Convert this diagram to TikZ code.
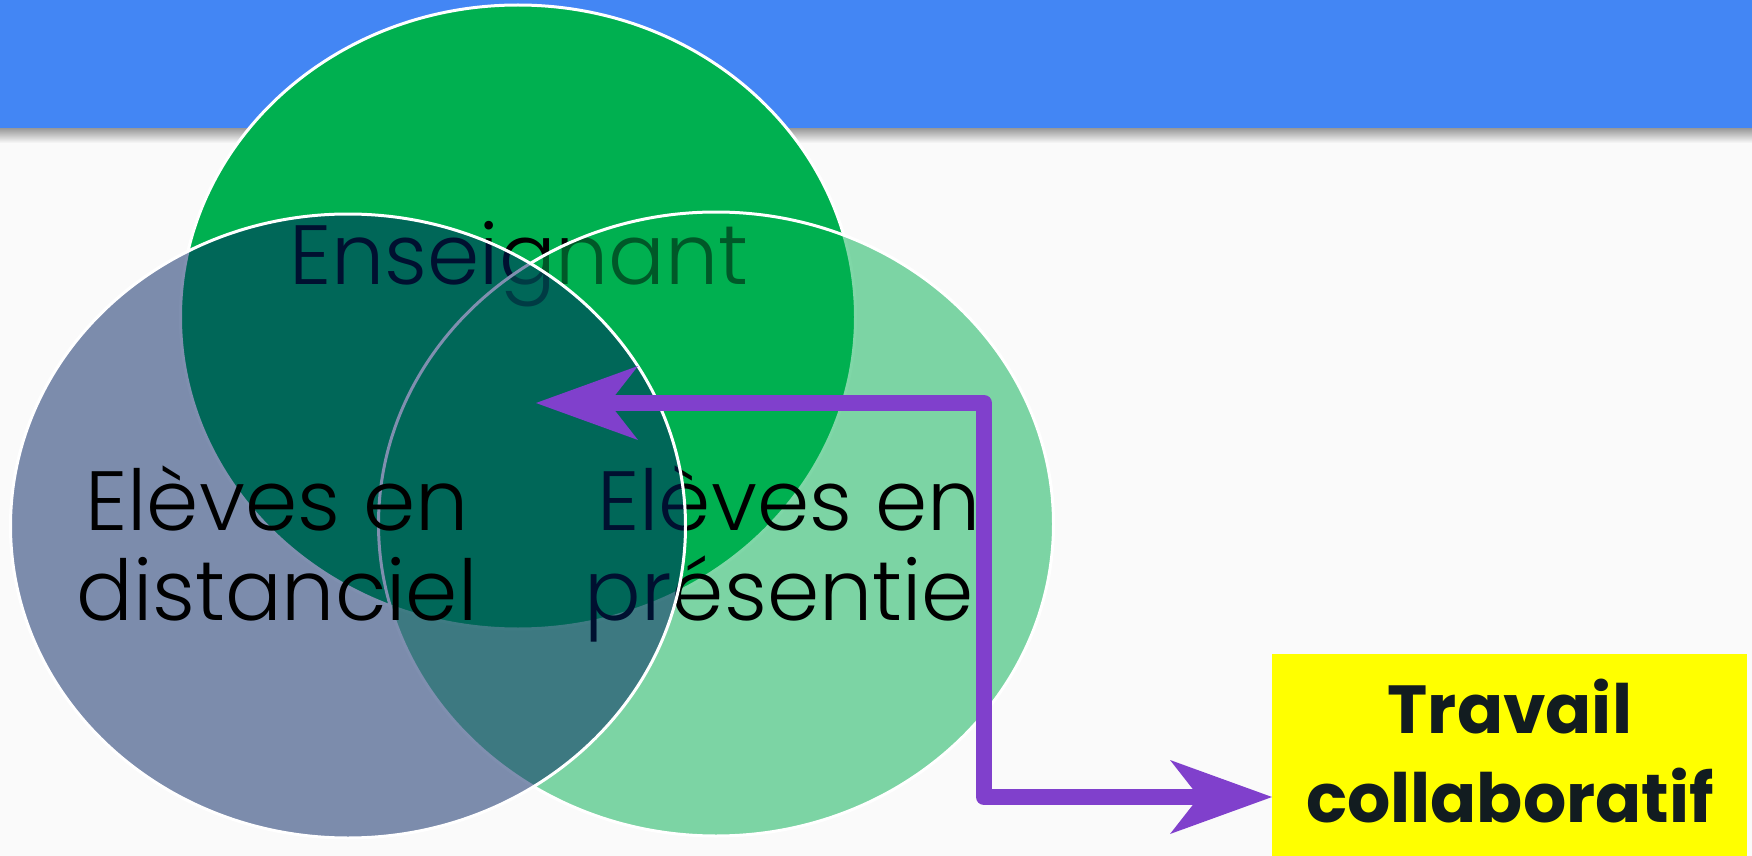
\documentclass[tikz,border=0pt]{standalone}
\usepackage{fontspec}
\IfFontExistsTF{Poppins Light}{\setmainfont{Poppins Light}[BoldFont=Poppins Bold]}{\setmainfont{Poppins}}
\usetikzlibrary{arrows.meta}
\definecolor{bg}{HTML}{FAFAFA}
\definecolor{barblue}{HTML}{4386F4}
\definecolor{topgreen}{HTML}{00B050}
\definecolor{navyblue}{HTML}{002060}
\definecolor{arrowpurple}{HTML}{8040CC}
\definecolor{txtdark}{HTML}{121C20}
\definecolor{boxyellow}{HTML}{FFFF00}
\tikzset{
  ring/.style={draw=white, line width=1.5pt},
  venn/.style={x radius=168.75pt, y radius=156pt},
  lbl/.style={font=\fontsize{42}{45}\selectfont, text=black, align=center, inner sep=0pt},
  boxlbl/.style={fill=boxyellow, text=txtdark, font=\bfseries\fontsize{34}{44.5}\selectfont,
     align=center, inner sep=0pt, minimum width=237.5pt, minimum height=101pt, anchor=north west},
  bigtip/.tip={Stealth[length=51pt, width=37pt, inset=14.5pt, line width=0pt]},
  link/.style={draw=arrowpurple, line width=8pt, line join=round, bigtip-bigtip}
}
\begin{document}
\begin{tikzpicture}[x=0.5pt,y=-0.5pt]
\useasboundingbox (0,0) rectangle (1752,856);
\fill[bg] (0,0) rectangle (1752,856);
\fill[barblue] (0,0) rectangle (1752,129);
\shade[top color=black!38, bottom color=bg] (0,129) rectangle (1752,143);
% centres
\coordinate (cTop) at (518,317);
\coordinate (cLeft) at (348,526);
\coordinate (cRight) at (716,524);
% Enseignant ellipse
\fill[topgreen] (cTop) ellipse [venn];
\begin{scope}
  \clip (0,0) -- (1752,0) -- (1752,856) -- (0,856) -- cycle
        (cLeft) ++(168.75pt,0) arc[start angle=360, end angle=0, venn] -- cycle;
  \draw[ring] (cTop) ellipse [venn];
\end{scope}
\node[lbl, anchor=base] (ens) at (519,285) {Enseignant};
% présentiel ellipse
\path[fill=topgreen, fill opacity=0.5, ring] (cRight) ellipse [venn];
\node[lbl, anchor=base] (pres) at (789,620) {Elèves en\\présentie\phantom{l}};
% distanciel ellipse
\path[fill=navyblue, fill opacity=0.5, ring] (cLeft) ellipse [venn];
\node[lbl, anchor=base] (dist) at (277,620) {Elèves en\\distanciel};
% yellow box
\node[boxlbl] (travail) at (1272,654) {Travail\\collaboratif\rule[-5pt]{0pt}{5pt}};
% arrow
\coordinate (tipL) at (536,403);
\coordinate (elbow) at (984,403);
\coordinate (tipR) at (1272,797);
\draw[link] (tipL) -- (elbow) |- (tipR);
\end{tikzpicture}
\end{document}
